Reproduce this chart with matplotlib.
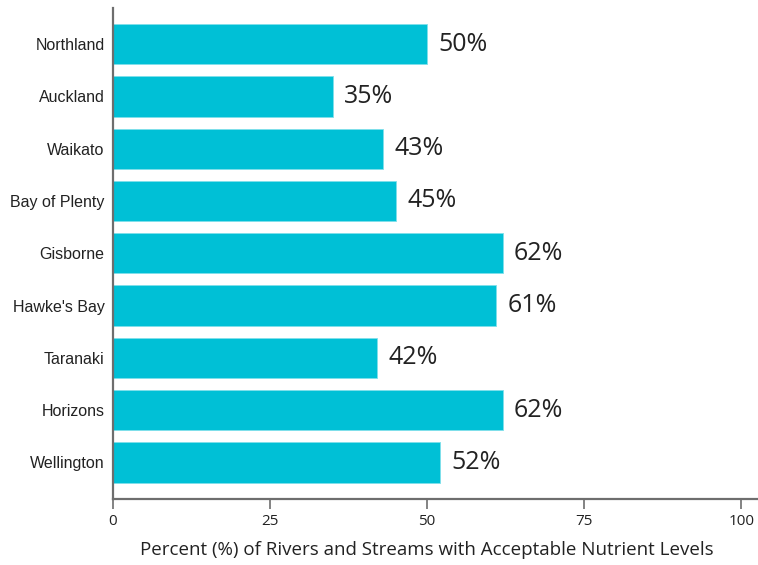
import matplotlib.pyplot as plt
import numpy as np

regions = ['Northland', 'Auckland', 'Waikato', 'Bay of Plenty', 'Gisborne',
           "Hawke's Bay", 'Taranaki', 'Horizons', 'Wellington']
percent = [50, 35, 43, 45, 62, 61, 42, 62, 52]
x_ticks = [0, 25, 50, 75, 100]

bar_color = '#00C0D6'
axis_color = '#6e6e6e'

fig = plt.figure(figsize=(7.58, 5.65), dpi=100)
ax = fig.add_axes([113 / 758, 66 / 565, 644 / 758, 491 / 565])

y = np.arange(len(regions))
ax.barh(y, percent, height=0.77, color=bar_color, edgecolor='#7fe0ea', linewidth=0.6)

# value labels to the right of each bar
for yi, v in zip(y, percent):
    ax.text(v + 1.8, yi, f'{v}%', va='center', ha='left', fontsize=18,
            family='Open Sans', color='#222222')

ax.set_xlim(0, 102.5)
ax.set_ylim(len(regions) - 0.3, -0.69)
ax.set_yticks(y)
ax.set_yticklabels(regions, family='Liberation Sans', fontsize=11.5, color='#222222')
ax.set_xticks(x_ticks)
ax.set_xticklabels([str(t) for t in x_ticks], family='Open Sans', fontsize=11, color='#222222')

ax.tick_params(axis='y', length=0, pad=6)
ax.tick_params(axis='x', length=7, width=1.2, color=axis_color, pad=4)

for side in ['top', 'right']:
    ax.spines[side].set_visible(False)
for side in ['left', 'bottom']:
    ax.spines[side].set_color(axis_color)
    ax.spines[side].set_linewidth(1.6)

ax.set_xlabel('Percent (%) of Rivers and Streams with Acceptable Nutrient Levels',
              family='Open Sans', fontsize=13.5, color='#222222', labelpad=8)
ax.xaxis.set_label_coords(50 / 102.5, -0.085)

fig.savefig('out.png', dpi=100)
